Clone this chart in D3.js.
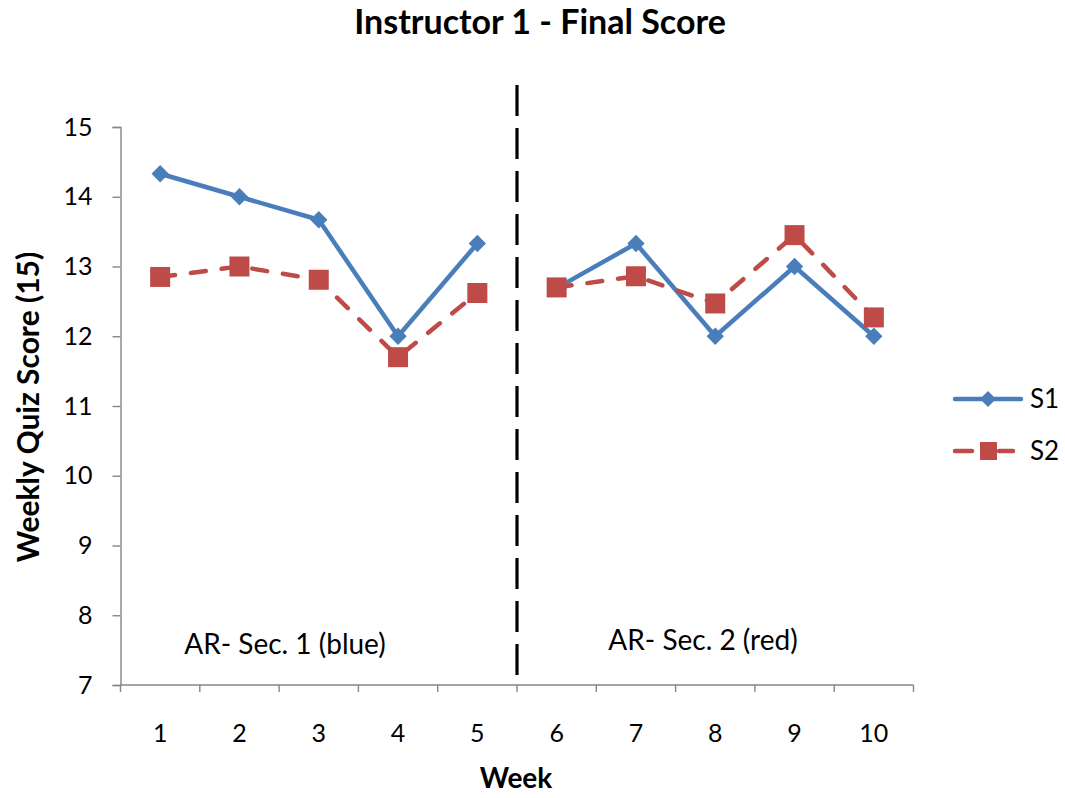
<!DOCTYPE html>
<html>
<head>
<meta charset="utf-8">
<script src="https://cdn.jsdelivr.net/npm/d3@7"></script>
<style>
  html, body { margin: 0; padding: 0; background: #fff; }
  svg { display: block; }
  text { font-family: Lato, "Open Sans", sans-serif; fill: #000; }
</style>
</head>
<body>
<svg id="chart" width="1065" height="798"></svg>
<script>
// Weekly quiz scores (out of 15) for two sections
const weeks = [1, 2, 3, 4, 5, 6, 7, 8, 9, 10];
const s1 = [14.33, 14.0, 13.67, 12.0, 13.33, 12.69, 13.33, 12.0, 13.0, 12.0];
const s2 = [12.85, 13.0, 12.81, 11.7, 12.62, 12.7, 12.86, 12.47, 13.45, 12.27];
const yTicks = [7, 8, 9, 10, 11, 12, 13, 14, 15];
const seriesNames = ["S1", "S2"];
const sectionLabels = ["AR- Sec. 1 (blue)", "AR- Sec. 2 (red)"];
// Weeks belonging to each section (lines are not joined across sections)
const sectionWeeks = [[1, 2, 3, 4, 5], [6, 7, 8, 9, 10]];

const colors = { S1: "#4a7ebb", S2: "#be4b48" };

const svg = d3.select("#chart");
const plot = { left: 120.5, right: 913.5, top: 127, bottom: 685 };

const x = d3.scaleBand().domain(weeks).range([plot.left, plot.right]);
const y = d3.scaleLinear().domain([7, 15]).range([plot.bottom, plot.top]);
const cx = d => x(d) + x.bandwidth() / 2;

// Title
svg.append("text")
  .attr("x", 540).attr("y", 34)
  .attr("text-anchor", "middle")
  .attr("font-size", 34).attr("font-weight", "bold")
  .text("Instructor 1 - Final Score");

// Y axis
const yAxis = svg.append("g").attr("transform", `translate(${plot.left},0)`)
  .call(d3.axisLeft(y).tickValues(yTicks).tickSize(8).tickPadding(20));
yAxis.select(".domain").attr("stroke", "#868686").attr("stroke-width", 1.4);
yAxis.selectAll(".tick line").attr("stroke", "#868686").attr("stroke-width", 1.4);
yAxis.selectAll(".tick text").attr("font-size", 25).attr("font-family", "Lato, sans-serif").attr("fill", "#000");

// X axis: ticks sit on band boundaries, labels at band centres
const xAxisG = svg.append("g").attr("transform", `translate(0,${plot.bottom})`);
xAxisG.append("line")
  .attr("x1", plot.left).attr("x2", plot.right)
  .attr("stroke", "#868686").attr("stroke-width", 1.4);
const boundaries = weeks.map(w => x(w)).concat([plot.right]);
xAxisG.selectAll("line.tk").data(boundaries).join("line")
  .attr("class", "tk")
  .attr("x1", d => d).attr("x2", d => d)
  .attr("y1", 0).attr("y2", 7)
  .attr("stroke", "#868686").attr("stroke-width", 1.4);
xAxisG.selectAll("text").data(weeks).join("text")
  .attr("x", d => cx(d)).attr("y", 57)
  .attr("text-anchor", "middle").attr("font-size", 25)
  .text(d => d);

// Axis titles
svg.append("text")
  .attr("x", 516).attr("y", 788)
  .attr("text-anchor", "middle")
  .attr("font-size", 28).attr("font-weight", "bold")
  .text("Week");
svg.append("text")
  .attr("transform", "translate(39,407) rotate(-90)")
  .attr("text-anchor", "middle")
  .attr("font-size", 30).attr("font-weight", "bold")
  .text("Weekly Quiz Score (15)");

// Divider between the two sections
svg.append("line")
  .attr("x1", x(6)).attr("x2", x(6))
  .attr("y1", 85).attr("y2", plot.bottom)
  .attr("stroke", "#000").attr("stroke-width", 3.2)
  .attr("stroke-dasharray", "31,12");

// Section labels
svg.append("text")
  .attr("x", 285).attr("y", 654)
  .attr("text-anchor", "middle").attr("font-size", 28)
  .text(sectionLabels[0]);
svg.append("text")
  .attr("x", 703).attr("y", 650)
  .attr("text-anchor", "middle").attr("font-size", 28)
  .text(sectionLabels[1]);

const line = d3.line().x(d => cx(d.week)).y(d => y(d.value));
const pts = vals => weeks.map((w, i) => ({ week: w, value: vals[i] }));
const segments = vals => sectionWeeks.map(ws => pts(vals).filter(p => ws.includes(p.week)));

// S1 series: solid line with diamonds
svg.selectAll("path.s1line").data(segments(s1)).join("path")
  .attr("class", "s1line")
  .attr("d", line).attr("fill", "none")
  .attr("stroke", colors.S1).attr("stroke-width", 4.5)
  .attr("stroke-linejoin", "round").attr("stroke-linecap", "round");
const diamond = d3.symbol().type(d3.symbolSquare).size(150);
svg.selectAll("path.s1pt").data(pts(s1)).join("path")
  .attr("class", "s1pt")
  .attr("d", diamond)
  .attr("transform", d => `translate(${cx(d.week)},${y(d.value)}) rotate(45)`)
  .attr("fill", colors.S1);

// S2 series: dashed line with squares
svg.selectAll("path.s2line").data(segments(s2)).join("path")
  .attr("class", "s2line")
  .attr("d", line).attr("fill", "none")
  .attr("stroke", colors.S2).attr("stroke-width", 4.5)
  .attr("stroke-linecap", "round")
  .attr("stroke-dasharray", "15,16");
svg.selectAll("rect.s2pt").data(pts(s2)).join("rect")
  .attr("class", "s2pt")
  .attr("x", d => cx(d.week) - 10)
  .attr("y", d => y(d.value) - 10)
  .attr("width", 20).attr("height", 20)
  .attr("fill", colors.S2);

// Legend
const legendRows = [{ name: seriesNames[0], yy: 399 }, { name: seriesNames[1], yy: 451 }];
legendRows.forEach(r => {
  const g = svg.append("g");
  if (r.name === "S1") {
    g.append("line").attr("x1", 955).attr("x2", 1021).attr("y1", r.yy).attr("y2", r.yy)
      .attr("stroke", colors.S1).attr("stroke-width", 4.5).attr("stroke-linecap", "round");
    g.append("path").attr("d", d3.symbol().type(d3.symbolSquare).size(130))
      .attr("transform", `translate(988,${r.yy}) rotate(45)`).attr("fill", colors.S1);
  } else {
    g.append("line").attr("x1", 955).attr("x2", 1013).attr("y1", r.yy).attr("y2", r.yy)
      .attr("stroke", colors.S2).attr("stroke-width", 4.5).attr("stroke-linecap", "round")
      .attr("stroke-dasharray", "17,27");
    g.append("rect").attr("x", 980).attr("y", r.yy - 9).attr("width", 17).attr("height", 18)
      .attr("fill", colors.S2);
  }
  g.append("text").attr("x", 1030).attr("y", r.yy + 9)
    .attr("font-size", 26).text(r.name);
});
</script>
</body>
</html>
